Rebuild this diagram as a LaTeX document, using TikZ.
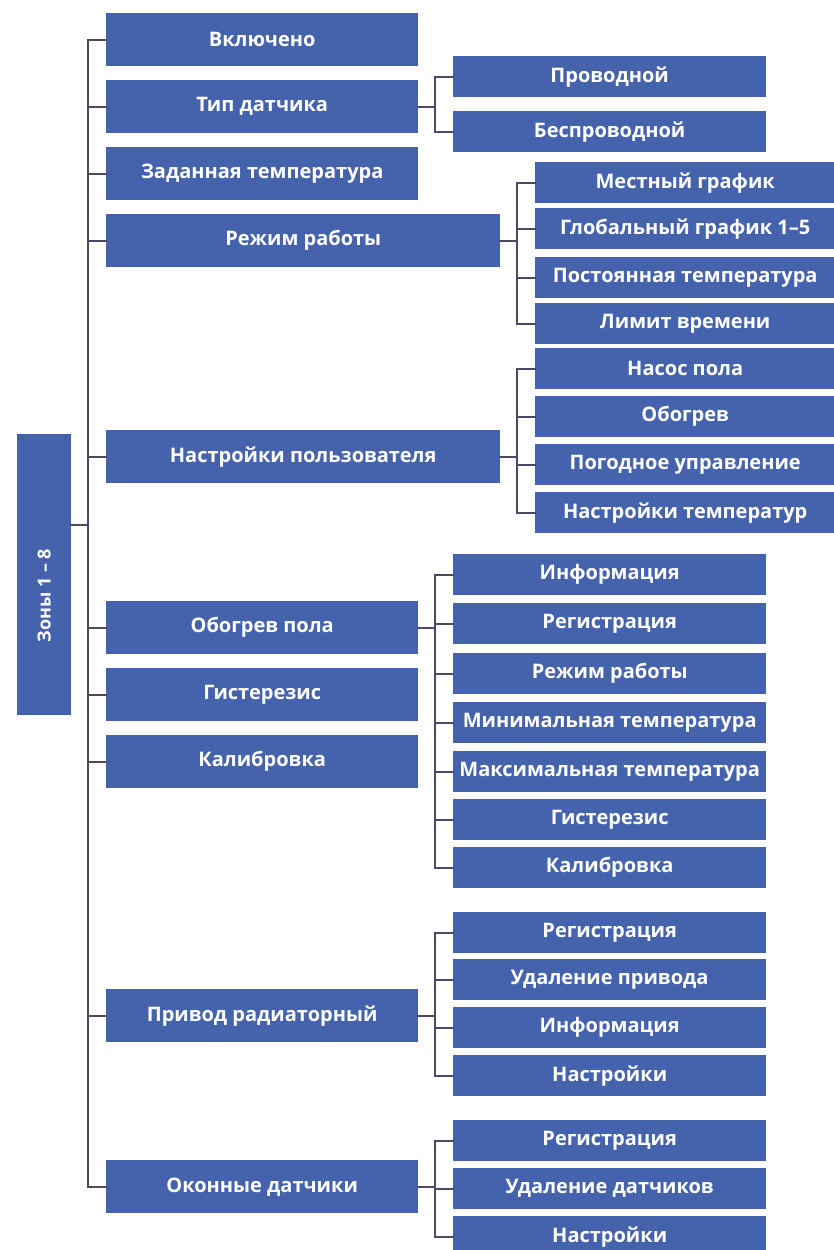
\documentclass[tikz,border=0pt]{standalone}
\usepackage{fontspec}
\setmainfont{Open Sans}
\usepackage{graphicx}
\definecolor{menublue}{HTML}{4563AD}
\definecolor{linegray}{HTML}{4A4A62}

\begin{document}
\begin{tikzpicture}[x=1pt,y=-1pt,%
% common options for the menu boxes:
item/.style = {fill=menublue, text=white, align=center, anchor=north west,
            font=\bfseries\fontsize{20}{24}\selectfont,
            minimum height=53pt, minimum width=312pt, inner sep=0},
wide/.style = {item, minimum width=394pt},
sub/.style = {item, minimum height=41pt, minimum width=313pt},
subr/.style = {sub, minimum width=300pt},
rootbox/.style = {item, font=\bfseries\fontsize{18}{22}\selectfont,
            minimum width=54pt, minimum height=281pt},
% common options for the tree lines:
link/.style = {draw=linegray, line width=2pt, line cap=rect}]
\useasboundingbox (0,0) rectangle (834,1250);
\clip (0,0) rectangle (834,1250);
% root
\node[rootbox] (zones) at (17,434) {\rotatebox{90}{Зоны 1 – 8\hspace*{42pt}}};
% first level
\node[item] (vkl) at (106,13) {Включено};
\node[item] (tip) at (106,80) {Тип датчика};
\node[item] (zad) at (106,147) {Заданная температура};
\node[wide] (rezh) at (106,214) {Режим работы};
\node[wide] (polz) at (106,430) {Настройки пользователя};
\node[item] (pol) at (106,601) {Обогрев пола};
\node[item] (gist) at (106,668) {Гистерезис};
\node[item] (kalib) at (106,735) {Калибровка};
\node[item] (priv) at (106,989) {Привод радиаторный};
\node[item] (okn) at (106,1160) {Оконные датчики};
% second level
\node[sub] (pro) at (453,56) {Проводной};
\node[sub] (bes) at (453,111) {Беспроводной};
\node[subr] (mest) at (535,162) {Местный график};
\node[subr] (glob) at (535,208) {Глобальный график 1–5};
\node[subr] (post) at (535,257) {Постоянная температура};
\node[subr] (lim) at (535,303) {Лимит времени};
\node[subr] (nas) at (535,348) {Насос пола};
\node[subr] (obo) at (535,396) {Обогрев};
\node[subr] (pog) at (535,444) {Погодное управление};
\node[subr] (nastt) at (535,492) {Настройки температур};
\node[sub] (info) at (453,554) {Информация};
\node[sub] (reg) at (453,603) {Регистрация};
\node[sub] (rr) at (453,653) {Режим работы};
\node[sub] (tmin) at (453,702) {Минимальная температура};
\node[sub] (tmax) at (453,751) {Максимальная температура};
\node[sub] (gistp) at (453,799) {Гистерезис};
\node[sub] (kalp) at (453,847) {Калибровка};
\node[sub] (regp) at (453,912) {Регистрация};
\node[sub] (udp) at (453,959) {Удаление привода};
\node[sub] (infop) at (453,1007) {Информация};
\node[sub] (nasp) at (453,1055) {Настройки};
\node[sub] (rego) at (453,1120) {Регистрация};
\node[sub] (udo) at (453,1168) {Удаление датчиков};
\node[sub] (naso) at (453,1216) {Настройки};
% bus columns
\coordinate (trunk) at (88,0);
\coordinate (busA) at (435,0);
\coordinate (busB) at (517,0);
\coordinate (zout) at ([yshift=50pt]zones.east);
% trunk
\draw[link] (zout) -- (trunk |- zout)
  (trunk |- vkl.west) -- (trunk |- okn.west)
  (trunk |- vkl.west) -- (vkl.west)
  (trunk |- tip.west) -- (tip.west)
  (trunk |- zad.west) -- (zad.west)
  (trunk |- rezh.west) -- (rezh.west)
  (trunk |- polz.west) -- (polz.west)
  (trunk |- pol.west) -- (pol.west)
  (trunk |- gist.west) -- (gist.west)
  (trunk |- kalib.west) -- (kalib.west)
  (trunk |- priv.west) -- (priv.west)
  (trunk |- okn.west) -- (okn.west);
% sensor type
\draw[link] (tip.east) -- (busA |- tip.east)
  (busA |- pro.west) -- (busA |- bes.west)
  (busA |- pro.west) -- (pro.west)
  (busA |- bes.west) -- (bes.west);
% operating mode
\draw[link] (rezh.east) -- (busB |- rezh.east)
  (busB |- mest.west) -- (busB |- lim.west)
  (busB |- mest.west) -- (mest.west)
  (busB |- glob.west) -- (glob.west)
  (busB |- post.west) -- (post.west)
  (busB |- lim.west) -- (lim.west);
% user settings
\draw[link] (polz.east) -- (busB |- polz.east)
  (busB |- nas.west) -- (busB |- nastt.west)
  (busB |- nas.west) -- (nas.west)
  (busB |- obo.west) -- (obo.west)
  (busB |- pog.west) -- (pog.west)
  (busB |- nastt.west) -- (nastt.west);
% floor heating
\draw[link] (pol.east) -- (busA |- pol.east)
  (busA |- info.west) -- (busA |- kalp.west)
  (busA |- info.west) -- (info.west)
  (busA |- reg.west) -- (reg.west)
  (busA |- rr.west) -- (rr.west)
  (busA |- tmin.west) -- (tmin.west)
  (busA |- tmax.west) -- (tmax.west)
  (busA |- gistp.west) -- (gistp.west)
  (busA |- kalp.west) -- (kalp.west);
% radiator actuator
\draw[link] (priv.east) -- (busA |- priv.east)
  (busA |- regp.west) -- (busA |- nasp.west)
  (busA |- regp.west) -- (regp.west)
  (busA |- udp.west) -- (udp.west)
  (busA |- infop.west) -- (infop.west)
  (busA |- nasp.west) -- (nasp.west);
% window sensors
\draw[link] (okn.east) -- (busA |- okn.east)
  (busA |- rego.west) -- (busA |- naso.west)
  (busA |- rego.west) -- (rego.west)
  (busA |- udo.west) -- (udo.west)
  (busA |- naso.west) -- (naso.west);
\end{tikzpicture}
\end{document}
